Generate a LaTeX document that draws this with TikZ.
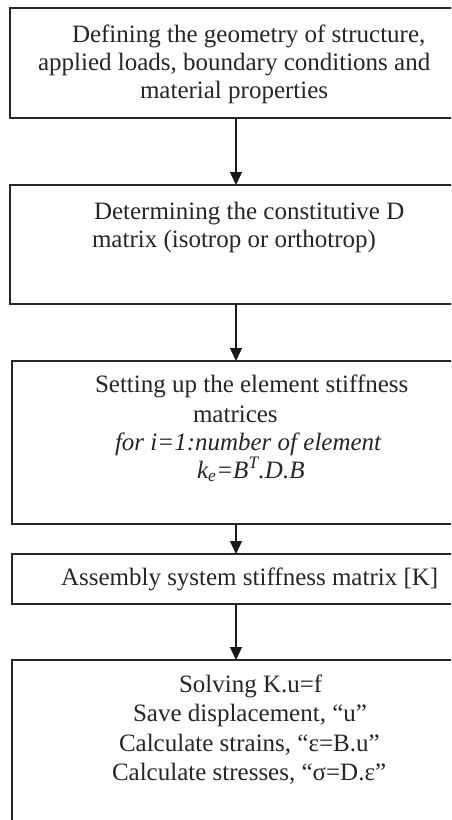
\documentclass[tikz,border=0pt]{standalone}
\usepackage{fontspec}
\setmainfont{Liberation Serif}
\usetikzlibrary{arrows.meta}
\begin{document}
\begin{tikzpicture}[x=1pt,y=-1pt,
  box/.style={draw=black!85, line width=1.3pt, rectangle, inner sep=0pt, outer sep=0pt, anchor=north west},
  txt/.style={inner sep=0pt, outer sep=0pt, anchor=base west, font=\fontsize{25}{28.75}\selectfont, text=black!85},
  arr/.style={draw=black!90, line width=1.3pt, -{Triangle[width=12pt,length=13pt]}}]
\clip (0,0) rectangle (451,820);
\fill[white] (0,0) rectangle (451,820);
% boxes
\node[box, minimum width=452pt, minimum height=110pt] (b1) at (10,8) {};
\node[box, minimum width=452pt, minimum height=119pt] (b2) at (10,185) {};
\node[box, minimum width=448pt, minimum height=163pt] (b3) at (12,361) {};
\node[box, minimum width=448pt, minimum height=50pt] (b4) at (12,554) {};
\node[box, minimum width=448pt, minimum height=190pt] (b5) at (12,660) {};
% texts
\node[txt] (t11) at (72,42) {Defining the geometry of structure,};
\node[txt] (t12) at (38,70) {applied loads, boundary conditions and};
\node[txt] (t13) at (140,98) {material properties};
\node[txt] (t21) at (94,219) {Determining the constitutive D};
\node[txt] (t22) at (92,247) {matrix (isotrop or orthotrop)};
\node[txt] (t31) at (95,392) {Setting up the element stiffness};
\node[txt] (t32) at (193,422) {matrices};
\node[txt] (t33) at (115,450) {\itshape for i=1:number of element};
\node[txt] (t34) at (197,478) {\itshape k\textsubscript{e}=B\textsuperscript{T}.D.B};
\node[txt] (t41) at (61,585) {Assembly system stiffness matrix [K]};
\node[txt] (t51) at (179,692) {Solving K.u=f};
\node[txt] (t52) at (133,721) {Save displacement, “u”};
\node[txt] (t53) at (119,751) {Calculate strains, “ε=B.u”};
\node[txt] (t54) at (112,780) {Calculate stresses, “σ=D.ε”};
% arrows
\draw[arr] (b1.south) -- (b2.north);
\draw[arr] (b2.south) -- (b3.north);
\draw[arr] (b3.south) -- (b4.north);
\draw[arr] (b4.south) -- (b5.north);
\end{tikzpicture}
\end{document}
